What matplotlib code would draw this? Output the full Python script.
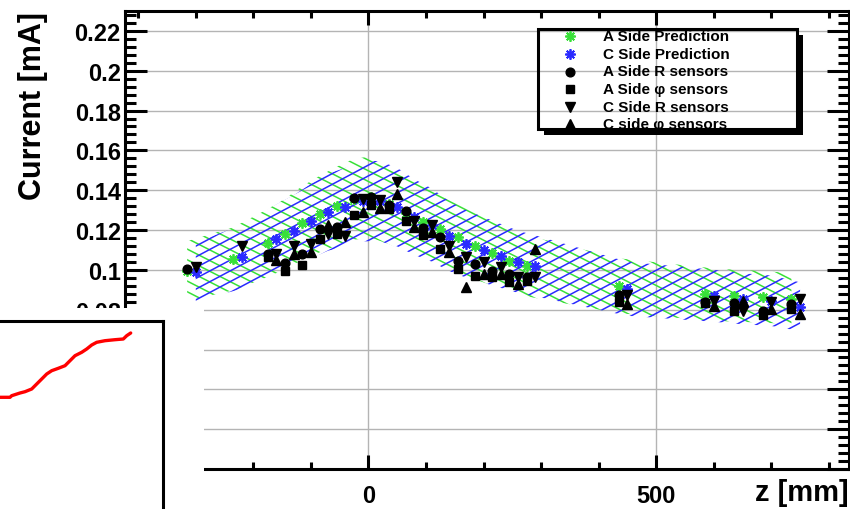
import numpy as np
import matplotlib
matplotlib.use("Agg")
import matplotlib.pyplot as plt
from matplotlib.collections import LineCollection
from matplotlib.patches import Rectangle
from matplotlib.lines import Line2D
from matplotlib.ticker import MultipleLocator, FuncFormatter

plt.rcParams["font.family"] = ["Liberation Sans", "DejaVu Sans"]
plt.rcParams["font.weight"] = "bold"

W_PX, H_PX = 850, 510

# ---------------- data ----------------
# module z positions [mm]
z_a = [-315, -235, -175, -145, -115, -85, -55, -25, 5, 35, 65, 95, 125, 155,
       185, 215, 245, 275, 435, 585, 635, 685, 735]
z_c = [-300, -220, -160, -130, -100, -70, -40, -10, 20, 50, 80, 110, 140, 170,
       200, 230, 260, 290, 450, 600, 650, 700, 750]

# predicted currents [mA]
pred_a = [0.0995, 0.1055, 0.1135, 0.118, 0.1235, 0.128, 0.132, 0.1355, 0.1365,
          0.133, 0.1285, 0.124, 0.1205, 0.1165, 0.112, 0.1085, 0.1045, 0.102,
          0.092, 0.088, 0.087, 0.0865, 0.0855]
pred_c = [0.099, 0.1065, 0.1155, 0.1195, 0.1245, 0.129, 0.1315, 0.1345, 0.1345,
          0.1315, 0.1265, 0.1225, 0.117, 0.113, 0.110, 0.107, 0.104, 0.102,
          0.0905, 0.087, 0.0855, 0.0845, 0.0815]
pred_rel_err = 0.15

# measured currents [mA]
nan = np.nan
a_r = [0.1005, nan, 0.108, 0.1035, 0.108, 0.1205, 0.1215, 0.136, 0.1365, 0.1325,
       0.1295, 0.121, 0.1165, 0.1045, 0.103, 0.0995, 0.098, 0.0965, 0.0875,
       0.084, 0.0835, 0.0795, 0.083]
a_phi = [nan, nan, 0.1065, 0.0995, 0.1025, 0.1155, 0.118, 0.1275, 0.1325, 0.1305,
         0.1245, 0.1175, 0.1105, 0.1005, 0.097, 0.0965, 0.094, 0.0945, 0.084,
         0.0835, 0.0795, 0.0775, 0.0805]
c_r = [0.1015, 0.112, 0.108, 0.112, 0.113, 0.118, 0.117, 0.1355, 0.135, 0.144,
       0.1245, 0.1225, 0.112, 0.1065, 0.104, 0.1015, 0.0965, 0.0965, 0.0875,
       0.0845, 0.0795, 0.084, 0.0855]
c_phi = [nan, nan, 0.105, 0.108, 0.109, 0.1225, 0.124, 0.129, 0.131, 0.138,
         0.1215, 0.119, 0.109, 0.0915, 0.098, 0.098, 0.093, 0.1105, 0.083,
         0.082, 0.0845, 0.0805, 0.078]

legend_labels = ["A Side Prediction", "C Side Prediction", "A Side R sensors",
                 "A Side \u03c6 sensors", "C Side R sensors", "C side \u03c6 sensors"]

# small overlaid trend curve (arbitrary units)
trend_x = [0, 10, 11.7, 20, 25, 31.7, 36.7, 41.7, 46.7, 51.7, 58.3, 65, 70, 75,
           81.7, 86.7, 91.7, 96.7, 105, 115, 123.3, 126.7, 130.7]
trend_y = [111.7, 111.7, 113.3, 116, 117.3, 120, 125, 130, 135, 138.3, 140.7,
           143.3, 148.3, 153.3, 156.7, 160, 164, 166.7, 168.3, 169.3, 170,
           173.3, 176]

# ---------------- styles ----------------
GREEN = "#38e038"
BLUE = "#2a2aff"
styles = [
    dict(marker=(8, 2, 0), color=GREEN, ms=7.5, mew=1.3, ls="none"),
    dict(marker=(8, 2, 0), color=BLUE, ms=7.5, mew=1.3, ls="none"),
    dict(marker="o", color="black", ms=6.3, ls="none"),
    dict(marker="s", color="black", ms=5.8, ls="none"),
    dict(marker="v", color="black", ms=6.8, ls="none"),
    dict(marker="^", color="black", ms=6.8, ls="none"),
]


def px2fig(x, y):
    return x / W_PX, 1 - y / H_PX


fig = plt.figure(figsize=(W_PX / 100, H_PX / 100), dpi=100, facecolor="white")
ax_l, ax_r, ax_t, ax_b = 125, 849, 12, 470
ax = fig.add_axes([ax_l / W_PX, 1 - ax_b / H_PX, (ax_r - ax_l) / W_PX,
                   (ax_b - ax_t) / H_PX])
ax.set_xlim(-423, 835)
ax.set_ylim(0, 0.23)

LW = 2.2
for s in ax.spines.values():
    s.set_linewidth(LW)

ax.xaxis.set_major_locator(MultipleLocator(500))
ax.xaxis.set_minor_locator(MultipleLocator(100))
ax.yaxis.set_major_locator(MultipleLocator(0.02))
ax.yaxis.set_minor_locator(MultipleLocator(0.004))
fmt = FuncFormatter(lambda v, p: "%g" % round(v, 6))
ax.xaxis.set_major_formatter(fmt)
ax.yaxis.set_major_formatter(fmt)
ax.tick_params(axis="y", which="major", direction="in", length=15.8, width=LW,
               left=True, right=True, labelsize=17, pad=3)
ax.tick_params(axis="y", which="minor", direction="in", length=7.9, width=LW,
               left=True, right=True)
ax.tick_params(axis="x", which="major", direction="in", length=10, width=LW,
               bottom=True, top=True, labelsize=17, pad=11)
ax.tick_params(axis="x", which="minor", direction="in", length=5, width=LW,
               bottom=True, top=True)
ax.grid(True, which="major", color="#b4b4b4", lw=1.0, zorder=0)
ax.set_axisbelow(True)

# hatched prediction bands
bb = ax.get_position()
wpx, hpx = bb.width * W_PX, bb.height * H_PX


def hatch_band(z, pred, color, angle, spacing, zorder):
    pred = np.asarray(pred)
    lo, hi = pred * (1 - pred_rel_err), pred * (1 + pred_rel_err)
    coll = ax.fill_between(z, lo, hi, facecolor="none", edgecolor="none", lw=0)
    path = coll.get_paths()[0]
    th = np.deg2rad(angle)
    d = np.array([np.cos(th), np.sin(th)])
    n = np.array([-np.sin(th), np.cos(th)])
    diag = np.hypot(wpx, hpx)
    ctr = np.array([wpx / 2, hpx / 2])
    segs = []
    for c in np.arange(-diag, diag, spacing):
        p0 = ctr + c * n - diag * d
        p1 = ctr + c * n + diag * d
        segs.append([(p0[0] / wpx, p0[1] / hpx), (p1[0] / wpx, p1[1] / hpx)])
    lc = LineCollection(segs, colors=color, linewidths=1.1,
                        transform=ax.transAxes, zorder=zorder)
    ax.add_collection(lc, autolim=False)
    lc.set_clip_path(path, ax.transData)


hatch_band(z_a, pred_a, GREEN, -27, 9.5, 2)
hatch_band(z_c, pred_c, BLUE, 28, 9.5, 3)

series = [(z_a, pred_a), (z_c, pred_c), (z_a, a_r), (z_a, a_phi), (z_c, c_r), (z_c, c_phi)]
for (zz, vv), st in zip(series, styles):
    ax.plot(zz, vv, zorder=5, clip_on=True, **st)

# legend box with drop shadow (gridlines remain visible inside)
lx0, ly0, lx1, ly1 = 538, 30, 797, 130
sh = 6
fig.add_artist(Rectangle(px2fig(lx1, ly1 + sh), sh / W_PX, (ly1 - ly0) / H_PX,
                         transform=fig.transFigure, facecolor="black", edgecolor="none", zorder=6))
fig.add_artist(Rectangle(px2fig(lx0 + sh, ly1 + sh), (lx1 + sh - lx0 - sh) / W_PX, sh / H_PX,
                         transform=fig.transFigure, facecolor="black", edgecolor="none", zorder=6))
fig.add_artist(Rectangle(px2fig(lx0, ly1), (lx1 - lx0) / W_PX, (ly1 - ly0) / H_PX,
                         transform=fig.transFigure, facecolor="none", edgecolor="black",
                         lw=LW, zorder=7))
row_y = [37, 55, 72.5, 90, 107.5, 124.5]
for yy, lab, st in zip(row_y, legend_labels, styles):
    fx, fy = px2fig(570, yy)
    fig.add_artist(Line2D([fx], [fy], transform=fig.transFigure, zorder=8, **st))
    tx, ty = px2fig(603, yy)
    fig.text(tx, ty, lab, fontsize=11, weight="bold", ha="left", va="center", zorder=8)

# axis titles
fig.text(*px2fig(33, 12), "Current [mA]", rotation=90, ha="center", va="top",
         fontsize=22, weight="bold")
fig.text(*px2fig(849, 501), "z [mm]", ha="right", va="baseline",
         fontsize=21, weight="bold")

# white panel in lower left with the small trend plot on it
fig.add_artist(Rectangle((0, 0), 204 / W_PX, (H_PX - 309) / H_PX, transform=fig.transFigure,
                         facecolor="white", edgecolor="none", zorder=10))
ins = fig.add_axes([0, 0, 163 / W_PX, (H_PX - 322) / H_PX], zorder=11)
ins.set_xlim(0, 163)
ins.set_ylim(0, H_PX - 322)
ins.set_xticks([])
ins.set_yticks([])
ins.spines["left"].set_visible(False)
ins.spines["bottom"].set_visible(False)
ins.spines["top"].set_linewidth(LW)
ins.spines["right"].set_linewidth(LW)
ins.plot(trend_x, trend_y, color="red", lw=2.4, solid_capstyle="round", clip_on=False)

fig.savefig("out.png", dpi=100, facecolor="white")
